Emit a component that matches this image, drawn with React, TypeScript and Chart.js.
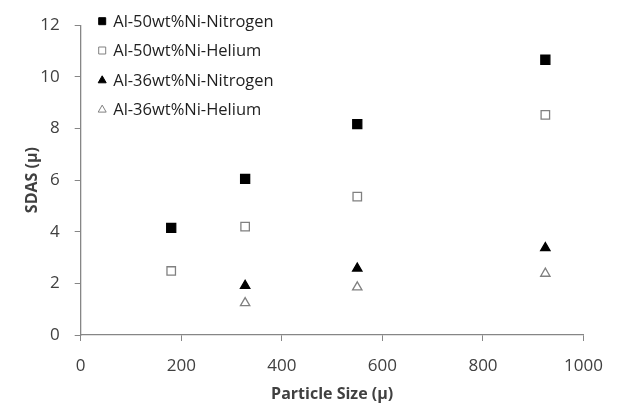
import React, { useEffect, useRef } from "react";
import { Chart, registerables } from "chart.js";

Chart.register(...registerables);

const seriesLabels = [
  "Al-50wt%Ni-Nitrogen",
  "Al-50wt%Ni-Helium",
  "Al-36wt%Ni-Nitrogen",
  "Al-36wt%Ni-Helium",
];

const particleSize50 = [180, 327, 550, 924];
const sdas50Nitrogen = [4.15, 6.05, 8.17, 10.66];
const sdas50Helium = [2.48, 4.2, 5.36, 8.53];

const particleSize36 = [327, 550, 924];
const sdas36Nitrogen = [1.91, 2.58, 3.37];
const sdas36Helium = [1.24, 1.85, 2.38];

const xTitle = "Particle Size (µ)";
const yTitle = "SDAS (µ)";

const FONT = "'Open Sans', sans-serif";
const TEXT = "#404040";
const AXIS = "#868686";

// target plot-area box (layout, not data)
const AREA = { left: 80.7, right: 596.7, top: 19.3, bottom: 335 };

const toPoints = (xs: number[], ys: number[]) => xs.map((x, i) => ({ x, y: ys[i] }));

const markerStyles = [
  { style: "rect", fill: "#000000", stroke: "#000000" },
  { style: "rect", fill: "#ffffff", stroke: "#808080" },
  { style: "triangle", fill: "#000000", stroke: "#000000" },
  { style: "triangle", fill: "#ffffff", stroke: "#808080" },
];

const legendPlugin = {
  id: "insideLegend",
  afterDraw(chart: any) {
    const ctx = chart.ctx;
    const area = chart.chartArea;
    const x0 = area.left + 21.5;
    const y0 = area.top - 4;
    const gap = 29.3;
    ctx.save();
    ctx.font = `16.5px ${FONT}`;
    ctx.textBaseline = "middle";
    ctx.textAlign = "left";
    chart.data.datasets.forEach((ds: any, i: number) => {
      const cy = y0 + i * gap;
      const m = markerStyles[i];
      ctx.fillStyle = m.fill;
      ctx.strokeStyle = m.stroke;
      ctx.lineWidth = 1;
      ctx.beginPath();
      if (m.style === "rect") {
        ctx.rect(x0 - 3.5, cy - 3.5, 7, 7);
      } else {
        ctx.moveTo(x0, cy - 4);
        ctx.lineTo(x0 + 4, cy + 3);
        ctx.lineTo(x0 - 4, cy + 3);
        ctx.closePath();
      }
      ctx.fill();
      ctx.stroke();
      ctx.fillStyle = "#1f1f1f";
      ctx.fillText(ds.label, x0 + 11, cy + 1);
    });
    ctx.restore();
  },
};

export default function App() {
  const ref = useRef<HTMLCanvasElement | null>(null);

  useEffect(() => {
    if (!ref.current) return;
    const datasets = [
      { data: toPoints(particleSize50, sdas50Nitrogen), radius: 6.4 },
      { data: toPoints(particleSize50, sdas50Helium), radius: 6.0 },
      { data: toPoints(particleSize36, sdas36Nitrogen), radius: 5.4 },
      { data: toPoints(particleSize36, sdas36Helium), radius: 5.4 },
    ].map((d, i) => ({
      label: seriesLabels[i],
      data: d.data,
      pointStyle: markerStyles[i].style,
      pointRadius: d.radius,
      pointHoverRadius: d.radius,
      backgroundColor: markerStyles[i].fill,
      borderColor: markerStyles[i].stroke,
      pointBorderWidth: 1.3,
      showLine: false,
    }));

    const padding = { top: AREA.top, right: 618 - AREA.right, left: 0, bottom: 0 };

    const chart = new Chart(ref.current, {
      type: "scatter",
      data: { datasets },
      options: {
        animation: false,
        responsive: false,
        maintainAspectRatio: false,
        layout: { padding },
        plugins: {
          legend: { display: false },
          tooltip: { enabled: false },
        },
        scales: {
          x: {
            type: "linear",
            min: 0,
            max: 1000,
            ticks: {
              stepSize: 200,
              color: TEXT,
              font: { family: FONT, size: 17 },
              padding: 15,
              maxRotation: 0,
              callback: (v: any) => String(v),
            },
            grid: {
              display: true,
              drawOnChartArea: false,
              drawTicks: true,
              tickLength: 6,
              color: AXIS,
              lineWidth: 1,
            },
            border: { display: true, color: AXIS, width: 1.3 },
            title: {
              display: true,
              text: xTitle,
              color: TEXT,
              font: { family: FONT, size: 16, weight: "bold" },
              padding: { top: 4, bottom: 10 },
            },
            afterFit: (scale: any) => {
              scale.height = 414 - AREA.bottom;
            },
          },
          y: {
            type: "linear",
            min: 0,
            max: 12,
            ticks: {
              stepSize: 2,
              color: TEXT,
              font: { family: FONT, size: 17 },
              padding: 15,
              callback: (v: any) => String(v),
            },
            grid: {
              display: true,
              drawOnChartArea: false,
              drawTicks: true,
              tickLength: 6,
              color: AXIS,
              lineWidth: 1,
            },
            border: { display: true, color: AXIS, width: 1.3 },
            title: {
              display: true,
              text: yTitle,
              color: TEXT,
              font: { family: FONT, size: 16, weight: "bold" },
              padding: { top: 23, bottom: 0 },
            },
            afterFit: (scale: any) => {
              scale.width = AREA.left;
            },
          },
        },
      },
      plugins: [legendPlugin],
    } as any);

    // nudge layout padding so the plot area lands on the target box
    for (let k = 0; k < 3; k++) {
      const ca = chart.chartArea;
      const dt = AREA.top - ca.top;
      const dr = ca.right - AREA.right;
      const dl = AREA.left - ca.left;
      const db = ca.bottom - AREA.bottom;
      if (Math.abs(dt) < 0.2 && Math.abs(dr) < 0.2 && Math.abs(dl) < 0.2 && Math.abs(db) < 0.2) break;
      padding.top = Math.max(0, padding.top + dt);
      padding.right = Math.max(0, padding.right + dr);
      padding.left = Math.max(0, padding.left + dl);
      padding.bottom = Math.max(0, padding.bottom + db);
      (chart.options as any).layout.padding = { ...padding };
      chart.update();
    }

    return () => chart.destroy();
  }, []);

  return (
    <div style={{ position: "fixed", left: 0, top: 0, width: 618, height: 414, background: "#ffffff" }}>
      <canvas ref={ref} width={618} height={414} style={{ width: 618, height: 414, display: "block" }} />
    </div>
  );
}
